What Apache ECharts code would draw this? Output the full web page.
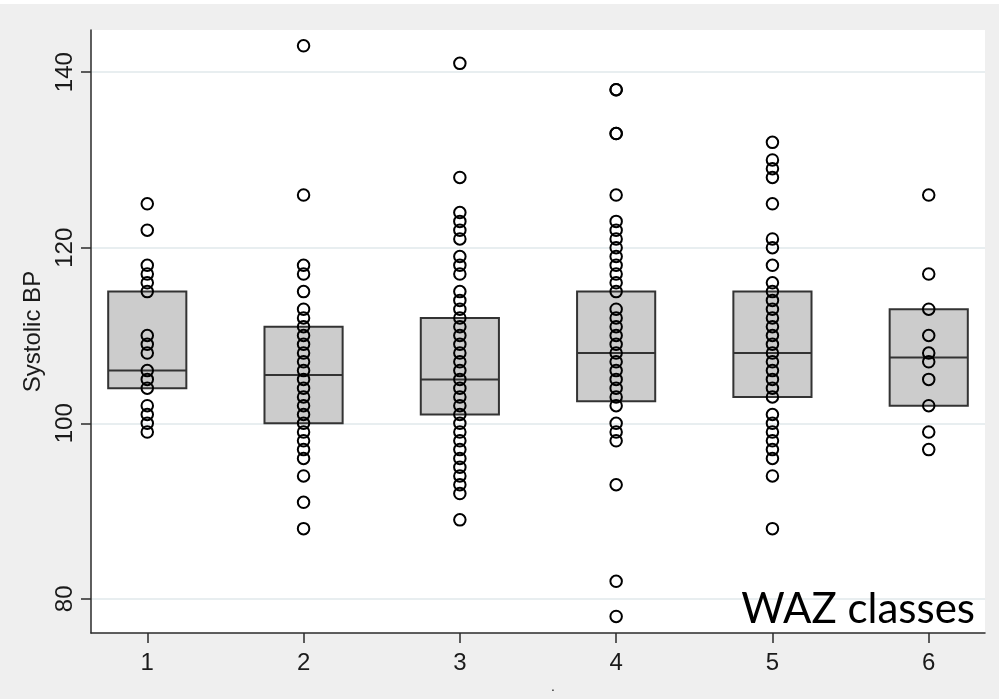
<!DOCTYPE html>
<html>
<head>
<meta charset="utf-8">
<script src="https://cdn.jsdelivr.net/npm/echarts@6/dist/echarts.min.js"></script>
<style>
html,body{margin:0;padding:0;background:#efefef;}
#chart{width:999px;height:699px;}
</style>
</head>
<body>
<div id="chart"></div>
<script>
// ---- data ----
const categories = [1, 2, 3, 4, 5, 6];
const class1 = [125, 122, 118, 117, 116, 115, 110, 109, 108, 106, 105, 104, 102, 101, 100, 99];
const class2 = [143, 126, 118, 117, 115, 113, 112, 111, 110, 109, 108, 107, 106, 105, 104, 103, 102, 101, 100, 99, 98, 97, 96, 94, 91, 88];
const class3 = [141, 128, 124, 123, 122, 121, 119, 118, 117, 115, 114, 113, 112, 111, 110, 109, 108, 107, 106, 105, 104, 103, 102, 101, 100, 99, 98, 97, 96, 95, 94, 93, 92, 89];
const class4 = [138, 138, 133, 133, 126, 123, 122, 121, 120, 119, 118, 117, 116, 115, 113, 112, 111, 110, 109, 108, 107, 106, 105, 104, 103, 102, 100, 99, 98, 93, 82, 78];
const class5 = [132, 130, 129, 128, 125, 121, 120, 118, 116, 115, 114, 113, 112, 111, 110, 109, 108, 107, 106, 105, 104, 103, 101, 100, 99, 98, 97, 96, 94, 88];
const class6 = [126, 117, 113, 110, 108, 107, 105, 102, 99, 97];
const q1 = [104, 100, 101, 102.5, 103, 102];
const median = [106, 105.5, 105, 108, 108, 107.5];
const q3 = [115, 111, 112, 115, 115, 113];
const yTicks = [80, 100, 120, 140];
const yTitle = 'Systolic BP';
const noteText = 'WAZ classes';

// ---- build ----
const groups = [class1, class2, class3, class4, class5, class6];
const pointData = [];
groups.forEach((g, i) => g.forEach(v => pointData.push([categories[i], v])));
const boxData = categories.map((c, i) => [c, q1[i], median[i], q3[i]]);

const FONT = "'Liberation Sans', Arial, sans-serif";
const el = document.getElementById('chart');
const chart = echarts.init(el, null, {renderer: 'canvas'});
chart.setOption({
  animation: false,
  backgroundColor: '#efefef',
  grid: {left: 91, top: 30, right: 14, bottom: 54, show: true, backgroundColor: '#ffffff', borderWidth: 0, containLabel: false},
  xAxis: {
    type: 'value', min: 0.64, max: 6.36,
    name: '.', nameLocation: 'middle', nameGap: 40,
    nameTextStyle: {fontFamily: FONT, fontSize: 14, color: '#222', padding: [0, 0, 0, 30]},
    axisLine: {show: true, lineStyle: {color: '#2b2b2b', width: 1.5}},
    axisTick: {show: true, length: 10, inside: false, customValues: categories, lineStyle: {color: '#2b2b2b', width: 1.5}},
    axisLabel: {customValues: categories, margin: 18, fontFamily: FONT, fontSize: 24, color: '#1a1a1a'},
    splitLine: {show: false}
  },
  yAxis: {
    type: 'value', min: 76.1, max: 144.8,
    name: yTitle, nameLocation: 'middle', nameGap: 46, nameRotate: 90,
    nameTextStyle: {fontFamily: FONT, fontSize: 24, color: '#1a1a1a'},
    axisLine: {show: true, lineStyle: {color: '#2b2b2b', width: 1.5}},
    axisTick: {show: true, length: 10, customValues: yTicks, lineStyle: {color: '#2b2b2b', width: 1.5}},
    axisLabel: {customValues: yTicks, rotate: 90, margin: 14, fontFamily: FONT, fontSize: 24, color: '#1a1a1a'},
    splitLine: {show: true, lineStyle: {color: '#e8eef0', width: 2}}
  },
  graphic: [
    {type: 'rect', left: 0, top: 0, shape: {width: 999, height: 4}, style: {fill: '#ffffff'}, z: 0},
    {type: 'text', right: 24, top: 588, style: {text: noteText, fontFamily: 'Lato, Open Sans, sans-serif', fontSize: 42, fill: '#000'}, z: 100}
  ],
  series: [
    {
      type: 'custom',
      data: boxData,
      z: 2,
      renderItem: function (params, api) {
        const x = api.value(0);
        const a = api.coord([x - 0.25, api.value(3)]);
        const b = api.coord([x + 0.25, api.value(1)]);
        const m1 = api.coord([x - 0.25, api.value(2)]);
        const m2 = api.coord([x + 0.25, api.value(2)]);
        return {
          type: 'group',
          children: [
            {type: 'rect', shape: {x: a[0], y: a[1], width: b[0] - a[0], height: b[1] - a[1]},
             style: {fill: '#cccccc', stroke: '#333333', lineWidth: 2}},
            {type: 'line', shape: {x1: m1[0], y1: m1[1], x2: m2[0], y2: m2[1]},
             style: {stroke: '#333333', lineWidth: 2}}
          ]
        };
      }
    },
    {
      type: 'scatter',
      data: pointData,
      z: 5,
      symbol: 'circle',
      symbolSize: 11.5,
      itemStyle: {color: 'rgba(0,0,0,0)', borderColor: '#000000', borderWidth: 2, opacity: 1}
    }
  ]
});
</script>
</body>
</html>
